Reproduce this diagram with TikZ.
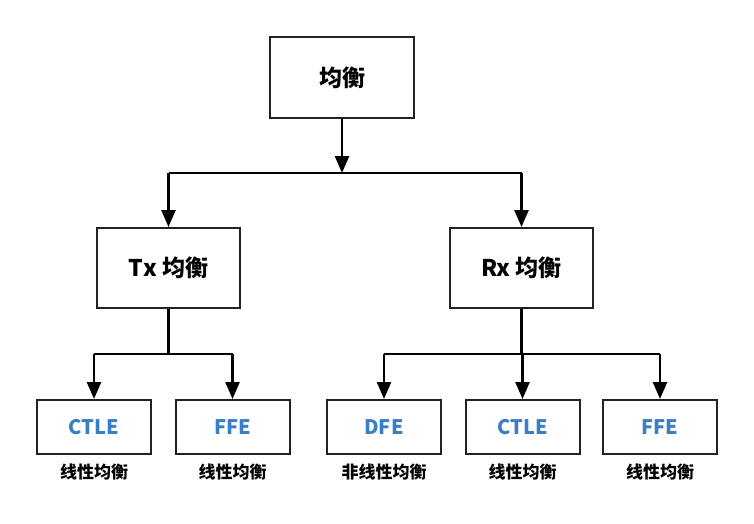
\documentclass[tikz,border=0pt]{standalone}
\usepackage{fontspec}
\setmainfont{Noto Sans CJK SC}
\usetikzlibrary{arrows.meta}
\definecolor{leafblue}{HTML}{3A7EC6}
\definecolor{boxline}{HTML}{222222}
\begin{document}
\begin{tikzpicture}[x=1pt,y=-1pt,
  box/.style={draw=boxline,line width=2pt,inner sep=0pt,font=\fontsize{23}{26}\selectfont\bfseries},
  leaf/.style={box,text=leafblue,font=\fontsize{20}{24}\selectfont\bfseries,minimum width=114pt,minimum height=54pt},
  mid/.style={box,minimum width=143pt,minimum height=80pt},
  lab/.style={font=\fontsize{17}{20}\selectfont\bfseries},
  conn/.style={line width=2.5pt},
  arr/.style={conn,-{Triangle[length=17pt,width=14pt]}}]
\useasboundingbox (0,0) rectangle (754,524);
\node[box,minimum width=144pt,minimum height=81pt] (top) at (342,77.5) {均衡};
\node[mid] (tx) at (168.5,268) {Tx 均衡};
\node[mid] (rx) at (521.5,268) {Rx 均衡};
\node[leaf] (c1) at (94,427) {CTLE};
\node[leaf] (f1) at (232.5,427) {FFE};
\node[leaf] (d2) at (384,427) {DFE};
\node[leaf] (c2) at (522.5,427) {CTLE};
\node[leaf] (f2) at (660,427) {FFE};
\node[lab] (lc1) at (94,472) {线性均衡};
\node[lab] (lf1) at (232.5,472) {线性均衡};
\node[lab] (ld2) at (384,472) {非线性均衡};
\node[lab] (lc2) at (522.5,472) {线性均衡};
\node[lab] (lf2) at (660,472) {线性均衡};
\coordinate (j0) at (342,173);
\coordinate (j1) at (168.5,354);
\coordinate (j2) at (521.5,354);
\draw[arr] (top.south) -- (j0);
\draw[conn] (tx.north |- j0) -- (rx.north |- j0);
\draw[arr] (tx.north |- j0) -- (tx.north);
\draw[arr] (rx.north |- j0) -- (rx.north);
\draw[conn] (tx.south) -- (j1);
\draw[conn] (c1.north |- j1) -- (f1.north |- j1);
\draw[arr] (c1.north |- j1) -- (c1.north);
\draw[arr] (f1.north |- j1) -- (f1.north);
\draw[conn] (rx.south) -- (j2);
\draw[conn] (d2.north |- j2) -- (f2.north |- j2);
\draw[arr] (d2.north |- j2) -- (d2.north);
\draw[arr] (c2.north |- j2) -- (c2.north);
\draw[arr] (f2.north |- j2) -- (f2.north);
\end{tikzpicture}
\end{document}
